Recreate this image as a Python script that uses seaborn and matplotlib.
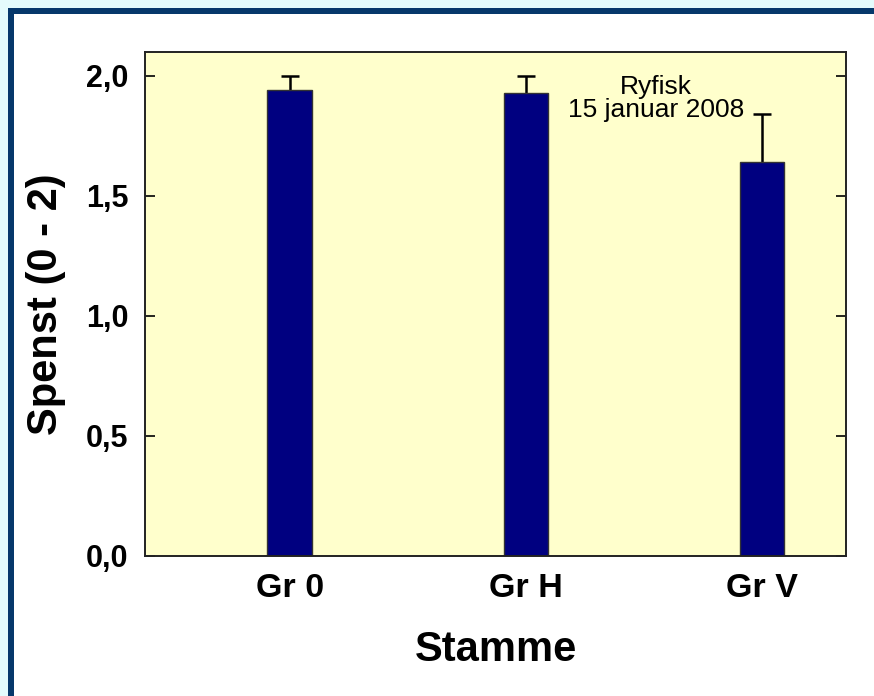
import matplotlib
matplotlib.use("Agg")
import matplotlib.pyplot as plt
import matplotlib.patches as mpatches
import seaborn as sns
import pandas as pd

# Data
groups = ["Gr 0", "Gr H", "Gr V"]
spenst = [1.94, 1.93, 1.64]
err_up = [0.06, 0.07, 0.20]
yticks = [0.0, 0.5, 1.0, 1.5, 2.0]
ytick_labels = ["0,0", "0,5", "1,0", "1,5", "2,0"]

sns.set_style("white")
plt.rcParams["font.family"] = ["Liberation Sans", "DejaVu Sans"]
plt.rcParams["text.color"] = "black"
plt.rcParams["axes.labelcolor"] = "black"
plt.rcParams["xtick.color"] = "black"
plt.rcParams["ytick.color"] = "black"

df = pd.DataFrame({"Stamme": groups, "Spenst": spenst})

fig = plt.figure(figsize=(8.74, 6.96), dpi=100)
fig.patch.set_facecolor("white")

# frame around the slide (left and top only, like the cropped original)
fig.patches.append(mpatches.Rectangle((0, 0), 8 / 874, 1, transform=fig.transFigure,
                                      facecolor="#E4FBFC", edgecolor="none", zorder=0))
fig.patches.append(mpatches.Rectangle((0, 1 - 8 / 696), 1, 8 / 696, transform=fig.transFigure,
                                      facecolor="#E4FBFC", edgecolor="none", zorder=0))
fig.patches.append(mpatches.Rectangle((8 / 874, 0), 6 / 874, 1 - 8 / 696, transform=fig.transFigure,
                                      facecolor="#06386B", edgecolor="none", zorder=1))
fig.patches.append(mpatches.Rectangle((8 / 874, 1 - 14 / 696), 1, 6 / 696, transform=fig.transFigure,
                                      facecolor="#06386B", edgecolor="none", zorder=1))

ax = fig.add_axes([145 / 874, 140 / 696, 701 / 874, 504 / 696])
ax.set_facecolor("#FFFFCC")

sns.barplot(data=df, x="Stamme", y="Spenst", color="#000080", width=0.19,
            edgecolor="#333333", linewidth=1, saturation=1, errorbar=None, ax=ax, zorder=2)
# upward error only: hide the lower caps
eb = ax.errorbar(range(len(groups)), spenst, yerr=[[0] * len(groups), err_up], fmt="none",
                 ecolor="black", elinewidth=1.8, capsize=6.5, capthick=1.8, zorder=1.5)
eb[1][0].set_visible(False)

ax.set_xlim(-0.614, 2.356)
ax.set_ylim(0, 2.1)
ax.set_yticks(yticks)
ax.set_yticklabels(ytick_labels, fontsize=22, fontweight="bold")
ax.tick_params(axis="y", direction="in", length=7, width=1.2, right=True, left=True, pad=12)
ax.tick_params(axis="x", length=0, pad=12)
for lbl in ax.get_xticklabels():
    lbl.set_fontsize(24.5)
    lbl.set_fontweight("bold")

for side in ax.spines.values():
    side.set_visible(True)
    side.set_color("#222222")
    side.set_linewidth(1.4)

ax.set_xlabel("Stamme", fontsize=30, fontweight="bold", labelpad=19)
ax.set_ylabel("Spenst (0 - 2)", fontsize=30, fontweight="bold", labelpad=14)

ax.text(1.55, 1.955, "Ryfisk", ha="center", va="center", fontsize=19)
ax.text(1.55, 1.86, "15 januar 2008", ha="center", va="center", fontsize=19)

fig.savefig("out.png", dpi=100)
